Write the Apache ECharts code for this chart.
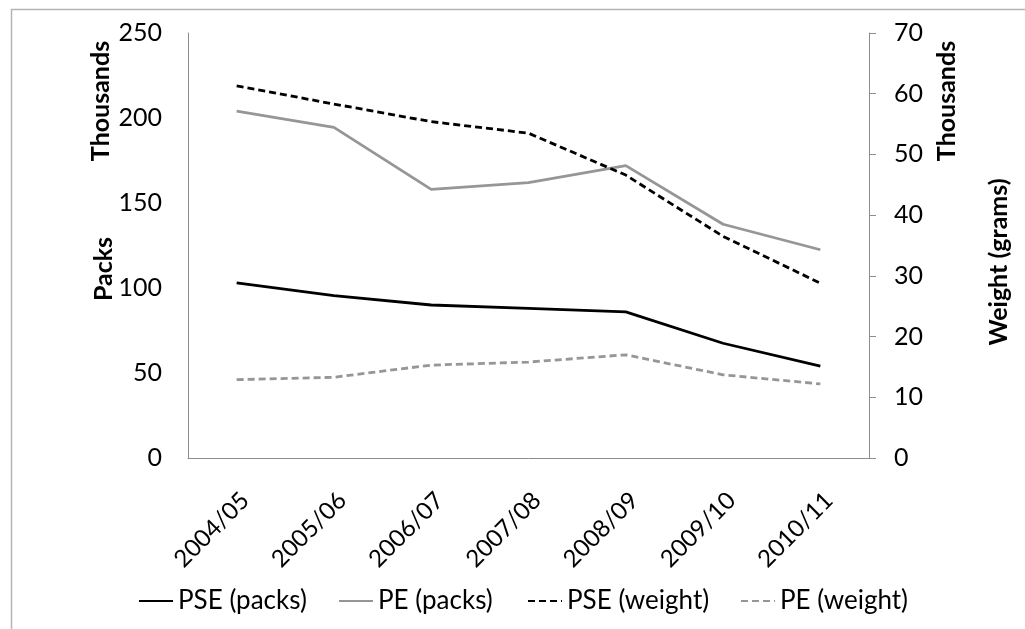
<!DOCTYPE html>
<html>
<head>
<meta charset="utf-8">
<script src="https://cdn.jsdelivr.net/npm/echarts@6/dist/echarts.min.js"></script>
<style>
  html, body { margin: 0; padding: 0; background: #fff; }
  #chart { width: 1025px; height: 629px; }
</style>
</head>
<body>
<div id="chart"></div>
<script>
// Financial years on the category axis
const years = ['2004/05', '2005/06', '2006/07', '2007/08', '2008/09', '2009/10', '2010/11'];

// Packs (thousands) – left axis
const psePacks = [103, 95.5, 90, 88, 86, 67.5, 54];
const pePacks = [204, 194.5, 158, 162, 172, 137.5, 122.5];

// Weight in grams (thousands) – right axis
const pseWeight = [61.3, 58.3, 55.4, 53.5, 46.6, 36.5, 28.8];
const peWeight = [12.9, 13.3, 15.3, 15.8, 17.0, 13.7, 12.2];

const leftTicks = { min: 0, max: 250, step: 50 };
const rightTicks = { min: 0, max: 70, step: 10 };

const seriesNames = ['PSE (packs)', 'PE (packs)', 'PSE (weight)', 'PE (weight)'];

const FONT = 'Lato, "Open Sans", sans-serif';
const AXIS_GREY = '#8c8c8c';
const LINE_GREY = '#969696';
const DASH = [7, 4];

const chart = echarts.init(document.getElementById('chart'), null, { renderer: 'canvas' });

function axisTitle(text, x, y) {
  return {
    type: 'text',
    x: x, y: y,
    rotation: Math.PI / 2,
    style: {
      text: text,
      font: 'bold 25px ' + FONT,
      fill: '#000',
      align: 'center',
      verticalAlign: 'middle'
    }
  };
}

// one legend block per series so each entry sits at its own column
const legendLefts = [138, 338, 527, 740];
const legends = seriesNames.map((name, i) => ({
  left: legendLefts[i],
  top: 588,
  padding: 0,
  itemWidth: 34,
  itemHeight: 14,
  itemStyle: { opacity: 0 },
  textStyle: { fontFamily: FONT, fontSize: 26, color: '#000' },
  data: [name]
}));

function lineSeries(i, axis, data, color, dashed) {
  return {
    name: seriesNames[i], type: 'line', yAxisIndex: axis, data: data,
    symbol: 'none',
    lineStyle: { color: color, width: 2.8, type: dashed ? DASH : 'solid' },
    itemStyle: { color: color }
  };
}

chart.setOption({
  animation: false,
  backgroundColor: '#fff',
  grid: { left: 188, right: 156, top: 33, bottom: 171, containLabel: false },
  graphic: [
    {
      type: 'rect',
      shape: { x: 11.5, y: 9.5, width: 1100, height: 700 },
      style: { fill: 'none', stroke: '#b4b4b4', lineWidth: 1.5 },
      silent: true
    },
    axisTitle('Thousands', 101, 101),
    axisTitle('Packs', 104, 269),
    axisTitle('Thousands', 947, 101),
    axisTitle('Weight (grams)', 999, 262)
  ],
  legend: legends,
  xAxis: {
    type: 'category',
    data: years,
    boundaryGap: true,
    axisLine: { lineStyle: { color: AXIS_GREY, width: 1 } },
    axisTick: { alignWithLabel: true, inside: true, length: 6, lineStyle: { color: AXIS_GREY } },
    axisLabel: {
      rotate: 45, margin: 30, verticalAlign: 'top',
      fontFamily: FONT, fontSize: 24, color: '#000'
    },
    splitLine: { show: false }
  },
  yAxis: [
    {
      type: 'value',
      min: leftTicks.min, max: leftTicks.max, interval: leftTicks.step,
      axisLine: { show: true, lineStyle: { color: AXIS_GREY, width: 1 } },
      axisTick: { show: false },
      axisLabel: { margin: 26, padding: [6, 0, 0, 0], fontFamily: FONT, fontSize: 25, color: '#000' },
      splitLine: { show: false }
    },
    {
      type: 'value',
      position: 'right',
      min: rightTicks.min, max: rightTicks.max, interval: rightTicks.step,
      axisLine: { show: true, lineStyle: { color: AXIS_GREY, width: 1 } },
      axisTick: { show: true, length: 7, lineStyle: { color: AXIS_GREY } },
      axisLabel: { margin: 25, padding: [4, 0, 0, 0], fontFamily: FONT, fontSize: 25, color: '#000' },
      splitLine: { show: false }
    }
  ],
  series: [
    lineSeries(0, 0, psePacks, '#000', false),
    lineSeries(1, 0, pePacks, LINE_GREY, false),
    lineSeries(2, 1, pseWeight, '#000', true),
    lineSeries(3, 1, peWeight, LINE_GREY, true)
  ]
});
</script>
</body>
</html>
